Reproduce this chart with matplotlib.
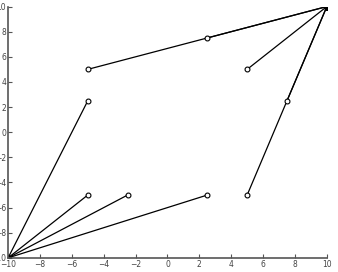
import numpy as np
import matplotlib.pyplot as plt

# segments start at a corner and end at an open circle
corners_x = [-10, -10, -10, -10, 10, 10, 10, 10, 10]
corners_y = [-10, -10, -10, -10, 10, 10, 10, 10, 10]
ends_x = [-5, -5, -2.5, 2.5, -5, 2.5, 5, 5, 7.5]
ends_y = [2.5, -5, -5, -5, 5, 7.5, 5, -5, 2.5]
ticks = [-10, -8, -6, -4, -2, 0, 2, 4, 6, 8, 10]

fig = plt.figure(figsize=(3.38, 2.72), dpi=100)
ax = fig.add_axes([0.024, 0.052, 0.943, 0.924])

for x0, y0, x1, y1 in zip(corners_x, corners_y, ends_x, ends_y):
    ax.plot([x0, x1], [y0, y1], color="black", lw=0.9)
    ax.plot(x1, y1, "o", mfc="white", mec="black", ms=3.5, mew=0.8)
    ax.plot(x0, y0, "o", color="black", ms=3.5)

ax.set_xlim(-10, 10)
ax.set_ylim(-10, 10)
ax.set_xticks(ticks)
ax.set_yticks(ticks)
for s in ["top", "right"]:
    ax.spines[s].set_visible(False)
for s in ["left", "bottom"]:
    ax.spines[s].set_color("#555555")
    ax.spines[s].set_linewidth(1.2)
ax.tick_params(direction="in", length=3, width=0.8, color="#555555",
               labelsize=5.5, labelcolor="#444444", pad=1.5)
for lbl in ax.get_yticklabels():
    lbl.set_horizontalalignment("right")

fig.savefig("out.png", dpi=100)
